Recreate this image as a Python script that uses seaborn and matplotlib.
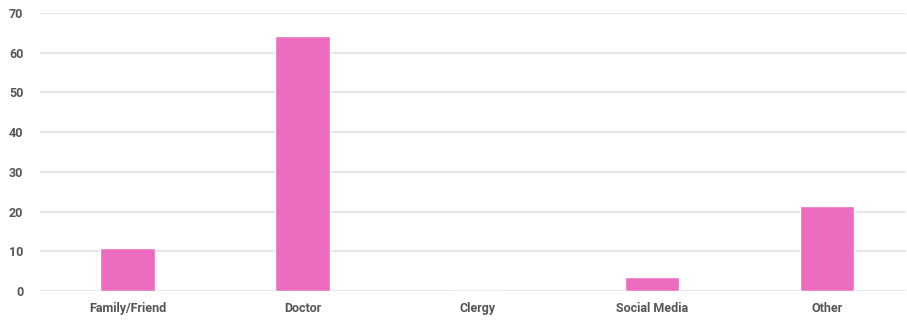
import seaborn as sns
import matplotlib.pyplot as plt
import pandas as pd

categories = ['Family/Friend', 'Doctor', 'Clergy', 'Social Media', 'Other']
values = [10.8, 64.3, 0, 3.6, 21.5]
yticks = [0, 10, 20, 30, 40, 50, 60, 70]

df = pd.DataFrame({'source': categories, 'count': values})

sns.set_style('white')
plt.rcParams['font.family'] = ['Roboto', 'DejaVu Sans']

fig = plt.figure(figsize=(9.07, 3.22), dpi=100)
ax = fig.add_axes([40 / 907, 1 - 291 / 322, 866 / 907, 278 / 322])

sns.barplot(data=df, x='source', y='count', color='#EC6DC0', saturation=1,
            width=0.31, ax=ax, zorder=3)

ax.set_ylim(0, 70)
ax.set_xlim(-0.5, 4.45)
ax.set_yticks(yticks)
ax.yaxis.grid(True, color='#E3E3E3', linewidth=1.3, zorder=0)
ax.set_axisbelow(True)
for s in ax.spines.values():
    s.set_visible(False)
ax.set_xlabel('')
ax.set_ylabel('')
ax.tick_params(axis='both', length=0, labelsize=9, labelcolor='#555555')
ax.tick_params(axis='y', pad=12)
ax.tick_params(axis='x', pad=8)
for lbl in ax.get_yticklabels() + ax.get_xticklabels():
    lbl.set_fontweight('bold')

fig.savefig('out.png', dpi=100)
